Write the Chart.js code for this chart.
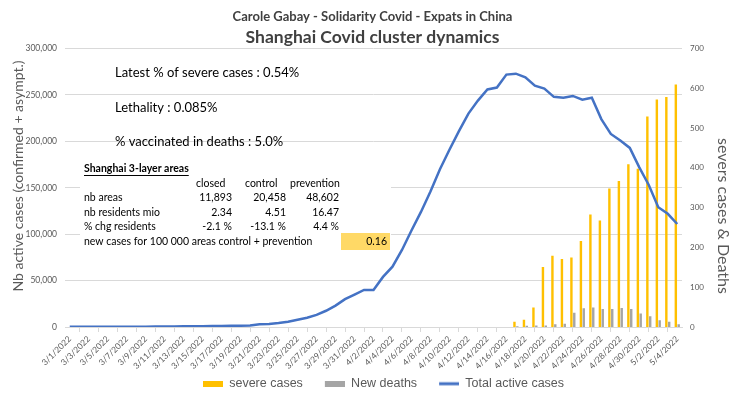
<!DOCTYPE html>
<html>
<head>
<meta charset="utf-8">
<script src="https://cdn.jsdelivr.net/npm/chart.js@4"></script>
<style>
  html, body { margin: 0; padding: 0; background: #fff; }
  #wrap { width: 745px; height: 395px; position: relative; }
</style>
</head>
<body>
<div id="wrap"><canvas id="clusterChart"></canvas></div>
<script>
// categories: one per day, 3/1 to 5/4
const dates = [
  '3/1/2022','3/2/2022','3/3/2022','3/4/2022','3/5/2022','3/6/2022','3/7/2022','3/8/2022','3/9/2022','3/10/2022',
  '3/11/2022','3/12/2022','3/13/2022','3/14/2022','3/15/2022','3/16/2022','3/17/2022','3/18/2022','3/19/2022','3/20/2022',
  '3/21/2022','3/22/2022','3/23/2022','3/24/2022','3/25/2022','3/26/2022','3/27/2022','3/28/2022','3/29/2022','3/30/2022',
  '3/31/2022','4/1/2022','4/2/2022','4/3/2022','4/4/2022','4/5/2022','4/6/2022','4/7/2022','4/8/2022','4/9/2022',
  '4/10/2022','4/11/2022','4/12/2022','4/13/2022','4/14/2022','4/15/2022','4/16/2022','4/17/2022','4/18/2022','4/19/2022',
  '4/20/2022','4/21/2022','4/22/2022','4/23/2022','4/24/2022','4/25/2022','4/26/2022','4/27/2022','4/28/2022','4/29/2022',
  '4/30/2022','5/1/2022','5/2/2022','5/3/2022','5/4/2022'
];

// total active cases (left axis)
const activeCases = [
  150, 200, 200, 250, 300, 300, 350, 400, 400, 450,
  500, 600, 700, 800, 900, 1000, 1100, 1300, 1400, 1600,
  2900, 3200, 4200, 5700, 7800, 10000, 13000, 17500, 23000, 30000,
  35000, 40000, 40000, 54000, 65000, 83000, 104000, 124000, 146000, 170000,
  191000, 211000, 230000, 244000, 256000, 258000, 272000, 273000, 269000, 260000,
  257000, 248000, 247000, 249000, 245000, 247000, 224000, 208000, 201000, 193000,
  172000, 153000, 129000, 122000, 111000
];

// severe cases and new deaths (right axis), reported from 4/17
const severeCases = [
  null, null, null, null, null, null, null, null, null, null,
  null, null, null, null, null, null, null, null, null, null,
  null, null, null, null, null, null, null, null, null, null,
  null, null, null, null, null, null, null, null, null, null,
  null, null, null, null, null, null, null, 13, 18, 49,
  151, 179, 171, 175, 216, 283, 268, 348, 367, 409,
  398, 529, 572, 578, 610
];
const newDeaths = [
  null, null, null, null, null, null, null, null, null, null,
  null, null, null, null, null, null, null, null, null, null,
  null, null, null, null, null, null, null, null, null, null,
  null, null, null, null, null, null, null, null, null, null,
  null, null, null, null, null, null, null, 2, 3, 4,
  4, 7, 8, 36, 47, 49, 45, 45, 48, 45,
  34, 27, 17, 13, 7
];

// notes written on the chart
const keyFigures = [
  'Latest % of severe cases : 0.54%',
  'Lethality : 0.085%',
  '% vaccinated in deaths : 5.0%'
];
const areaColumns = ['closed', 'control', 'prevention'];
const areaRows = [
  ['nb areas', '11,893', '20,458', '48,602'],
  ['nb residents mio', '2.34', '4.51', '16.47'],
  ['% chg residents', '-2.1 %', '-13.1 %', '4.4 %']
];
const newCasesRate = '0.16';
const leftTitle = 'Nb active cases (confirmed + asympt.)';
const rightTitle = 'severs cases & Deaths';

const GREY_TEXT = '#595959';
const GRID = '#d9d9d9';
const SANS = 'Lato, "Open Sans", sans-serif';

// legend swatch with an empty gap in front of it (spacing between items)
function swatch(color, h) {
  const c = document.createElement('canvas');
  c.width = 42;
  c.height = 6;
  const g = c.getContext('2d');
  g.fillStyle = color;
  g.fillRect(22, (6 - h) / 2, 20, h);
  return c;
}

// draws the text boxes inside the plot and the two axis titles
const notesPlugin = {
  id: 'notes',
  beforeDatasetsDraw(chart) {
    const ctx = chart.ctx;
    ctx.save();
    ctx.textBaseline = 'middle';

    ctx.fillStyle = '#000';
    ctx.font = '13px ' + SANS;
    ctx.textAlign = 'left';
    keyFigures.forEach((t, i) => ctx.fillText(t, 115, 73 + i * 34.5));

    // table box hides the grid lines
    ctx.fillStyle = '#fff';
    ctx.fillRect(80, 156, 311, 102);

    ctx.fillStyle = '#000';
    ctx.font = 'bold 10.5px ' + SANS;
    ctx.fillText('Shanghai 3-layer areas', 84, 169);
    const w = ctx.measureText('Shanghai 3-layer areas').width;
    ctx.fillRect(84, 175, w, 1);

    ctx.font = '10.5px ' + SANS;
    const headX = [196, 245, 290];
    areaColumns.forEach((c, i) => ctx.fillText(c, headX[i], 183.5));

    const colRight = [232, 286, 339];
    areaRows.forEach((row, r) => {
      const y = 198 + r * 14.5;
      ctx.textAlign = 'left';
      ctx.fillText(row[0], 84, y);
      ctx.textAlign = 'right';
      for (let c = 1; c < row.length; c++) ctx.fillText(row[c], colRight[c - 1], y);
    });

    ctx.textAlign = 'left';
    ctx.fillText('new cases for 100 000 areas control + prevention', 84, 241.5);
    ctx.fillStyle = '#ffd966';
    ctx.fillRect(341, 233, 49, 17);
    ctx.fillStyle = '#000';
    ctx.textAlign = 'right';
    ctx.fillText(newCasesRate, 387, 241.5);
    ctx.restore();
  },
  afterDraw(chart) {
    const ctx = chart.ctx;
    ctx.save();
    ctx.fillStyle = GREY_TEXT;
    ctx.textAlign = 'center';
    ctx.textBaseline = 'middle';

    ctx.save();
    ctx.translate(18, 176);
    ctx.rotate(-Math.PI / 2);
    ctx.font = '14px ' + SANS;
    ctx.fillText(leftTitle, 0, 0);
    ctx.restore();

    ctx.translate(723, 216);
    ctx.rotate(Math.PI / 2);
    ctx.font = '16px ' + SANS;
    ctx.fillText(rightTitle, 0, 0);
    ctx.restore();
  }
};

const ctx = document.getElementById('clusterChart').getContext('2d');

new Chart(ctx, {
  type: 'bar',
  data: {
    labels: dates,
    datasets: [
      {
        label: 'severe cases',
        data: severeCases,
        backgroundColor: '#ffc000',
        yAxisID: 'y1',
        order: 1,
        categoryPercentage: 0.6,
        barPercentage: 0.85
      },
      {
        label: 'New deaths',
        data: newDeaths,
        backgroundColor: '#a5a5a5',
        yAxisID: 'y1',
        order: 1,
        categoryPercentage: 0.6,
        barPercentage: 0.85
      },
      {
        type: 'line',
        label: 'Total active cases',
        data: activeCases,
        borderColor: '#4472c4',
        backgroundColor: '#4472c4',
        borderWidth: 2.5,
        pointRadius: 0,
        tension: 0,
        yAxisID: 'y',
        order: 0
      }
    ]
  },
  options: {
    responsive: true,
    maintainAspectRatio: false,
    animation: false,
    layout: { padding: { left: 0, right: 0, top: 0, bottom: -5 } },
    plugins: {
      title: {
        display: true,
        text: 'Carole Gabay - Solidarity Covid - Expats in China',
        color: '#404040',
        font: { family: SANS, size: 13, weight: 'bold' },
        padding: { top: 9, bottom: 2 }
      },
      subtitle: {
        display: true,
        text: 'Shanghai Covid cluster dynamics',
        color: '#404040',
        font: { family: SANS, size: 17.5, weight: 'bold' },
        padding: { top: 0, bottom: 1 }
      },
      legend: {
        position: 'bottom',
        labels: {
          color: GREY_TEXT,
          font: { family: '"Liberation Sans", Arial, sans-serif', size: 12.5 },
          usePointStyle: true,
          pointStyleWidth: 42,
          padding: 0,
          generateLabels(chart) {
            return chart.data.datasets.map((ds, i) => ({
              text: ds.label,
              pointStyle: swatch(ds.backgroundColor, ds.type === 'line' ? 3 : 6),
              fillStyle: ds.backgroundColor,
              strokeStyle: ds.backgroundColor,
              lineWidth: 0,
              fontColor: GREY_TEXT,
              datasetIndex: i
            }));
          }
        }
      },
      tooltip: { enabled: false }
    },
    scales: {
      x: {
        offset: true,
        grid: {
          offset: true,
          drawOnChartArea: false,
          drawTicks: true,
          tickLength: 5,
          color: GRID
        },
        border: { display: true, color: GRID },
        ticks: {
          autoSkip: false,
          minRotation: 45,
          maxRotation: 45,
          padding: 2,
          color: GREY_TEXT,
          font: { family: SANS, size: 8.5 },
          callback: function(value, index) {
            return index % 2 === 0 ? this.getLabelForValue(value) : null;
          }
        },
        afterFit(scale) { scale.height = 50.5; }
      },
      y: {
        position: 'left',
        min: 0,
        max: 300000,
        ticks: {
          stepSize: 50000,
          padding: 8,
          color: GREY_TEXT,
          font: { family: SANS, size: 8.5 }
        },
        grid: { color: GRID, drawTicks: false },
        border: { display: false },
        afterFit(scale) { scale.width = 65; }
      },
      y1: {
        position: 'right',
        min: 0,
        max: 700,
        ticks: {
          stepSize: 100,
          padding: 8,
          color: GREY_TEXT,
          font: { family: SANS, size: 8 }
        },
        grid: { display: false, drawTicks: false },
        border: { display: false },
        afterFit(scale) { scale.width = 63; }
      }
    }
  },
  plugins: [notesPlugin]
});
</script>
</body>
</html>
